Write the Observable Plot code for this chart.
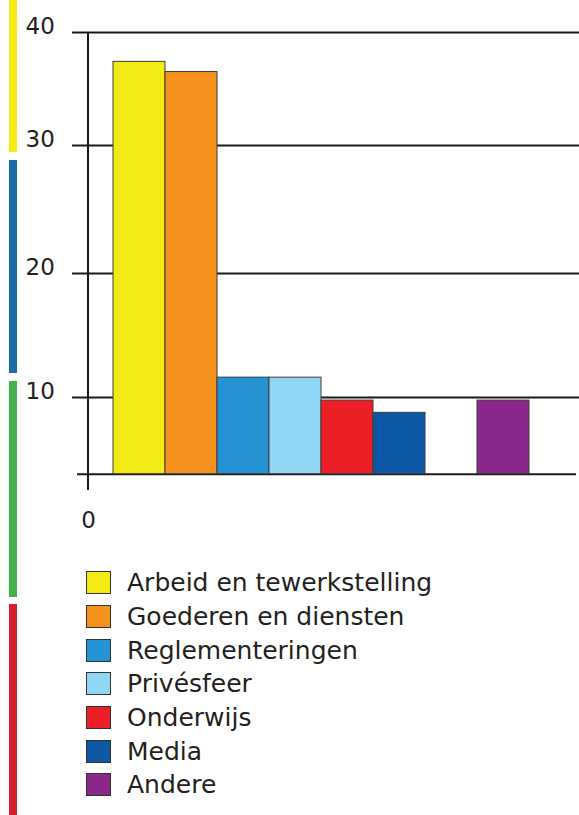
<!DOCTYPE html>
<html>
<head>
<meta charset="utf-8">
<script src="https://cdn.jsdelivr.net/npm/d3@7"></script>
<script src="https://cdn.jsdelivr.net/npm/@observablehq/plot@0.6"></script>
<style>
  html, body { margin: 0; padding: 0; background: #fff; }
  body { width: 579px; height: 815px; position: relative; overflow: hidden; font-family: "DejaVu Sans", Verdana, sans-serif; color: #231f20; }
  #strip { position: absolute; left: 9px; top: 0; width: 8px; height: 815px; z-index: 5; }
  #strip div { position: absolute; left: 0; width: 8px; }
  #chart { position: absolute; left: 0; top: 0; }
  #legend { position: absolute; left: 86px; top: 566px; }
  .row { display: flex; align-items: center; height: 33.7px; font-size: 25px; }
  .sw { width: 23px; height: 21px; border: 1px solid #333; margin-right: 16px; box-sizing: content-box; }
</style>
</head>
<body>
<div id="strip"></div>
<div id="chart"></div>
<div id="legend"></div>
<script>
// Data
const categories = ["Arbeid en tewerkstelling", "Goederen en diensten", "Reglementeringen", "Privésfeer", "Onderwijs", "Media", "Andere"];
const values = [37.4, 36.5, 11.6, 11.6, 9.6, 8.0, 9.6];
const colors = ["#f5eb14", "#f5921e", "#2592d3", "#90d7f6", "#ec1f27", "#0d58a4", "#8b288b"];
const slots = ["Arbeid en tewerkstelling", "Goederen en diensten", "Reglementeringen", "Privésfeer", "Onderwijs", "Media", "(leeg)", "Andere"];
const yTicks = [10, 20, 30, 40];
const yGrid = [0, 10, 20, 30, 40];
// the original axis is unevenly spaced: relative heights of the tick marks above the base
const yGridHeights = [0, 76.7, 200.7, 328.7, 441.7];
const stripColors = ["#f5eb14", "#1b6ba6", "#43b14b", "#d6202e"];
const stripSpans = [[0, 152], [160, 373], [381, 597], [604, 815]];

// Decorative side strip
const strip = document.getElementById("strip");
stripColors.forEach((c, i) => {
  const d = document.createElement("div");
  d.style.background = c;
  d.style.top = stripSpans[i][0] + "px";
  d.style.height = (stripSpans[i][1] - stripSpans[i][0]) + "px";
  strip.appendChild(d);
});

const data = categories.map((c, i) => ({cat: c, value: values[i]}));
const piecewise = d3.scaleLinear().domain(yGrid).range(yGridHeights);

const axisLine = (index, scales, vals, dims) =>
  d3.create("svg:line")
    .attr("x1", dims.marginLeft).attr("x2", dims.marginLeft)
    .attr("y1", dims.marginTop).attr("y2", dims.height - dims.marginBottom)
    .attr("stroke", "#1a1a1a").attr("stroke-width", 2)
    .node();

const chart = Plot.plot({
  width: 579,
  height: 545,
  marginLeft: 88,
  marginRight: 0,
  marginTop: 32,
  marginBottom: 55,
  style: {fontFamily: "DejaVu Sans, Verdana, sans-serif", fontSize: "23px", color: "#231f20", background: "transparent", overflow: "visible"},
  x: {type: "band", domain: slots, range: [112.3, 529.5], padding: 0, axis: null},
  y: {type: "linear", transform: piecewise, domain: [0, 441.7], range: [473.7, 32], axis: null},
  color: {type: "ordinal", domain: categories, range: colors},
  marks: [
    Plot.ruleY(yTicks, {y: d => d, stroke: "#1a1a1a", strokeWidth: 2, insetLeft: -16}),
    Plot.ruleY([0], {y: d => d, stroke: "#1a1a1a", strokeWidth: 2, insetLeft: -11, insetRight: 3}),
    axisLine,
    Plot.barY(data, {x: "cat", y: "value", fill: "cat", stroke: "#3c3c3c", strokeWidth: 1, inset: 0}),
    Plot.text(yTicks, {y: d => d, text: d => String(d), frameAnchor: "left", textAnchor: "start", lineAnchor: "bottom", dx: -63, dy: 1, fontSize: 23, fill: "#231f20"}),
    Plot.text([0], {y: d => d, text: d => String(d), frameAnchor: "left", textAnchor: "middle", lineAnchor: "bottom", dy: 54, fontSize: 23, fill: "#231f20"})
  ]
});
document.getElementById("chart").appendChild(chart);

// Legend
const legend = document.getElementById("legend");
categories.forEach((c, i) => {
  const row = document.createElement("div");
  row.className = "row";
  const sw = document.createElement("div");
  sw.className = "sw";
  sw.style.background = colors[i];
  const t = document.createElement("span");
  t.textContent = c;
  row.appendChild(sw);
  row.appendChild(t);
  legend.appendChild(row);
});
</script>
</body>
</html>
